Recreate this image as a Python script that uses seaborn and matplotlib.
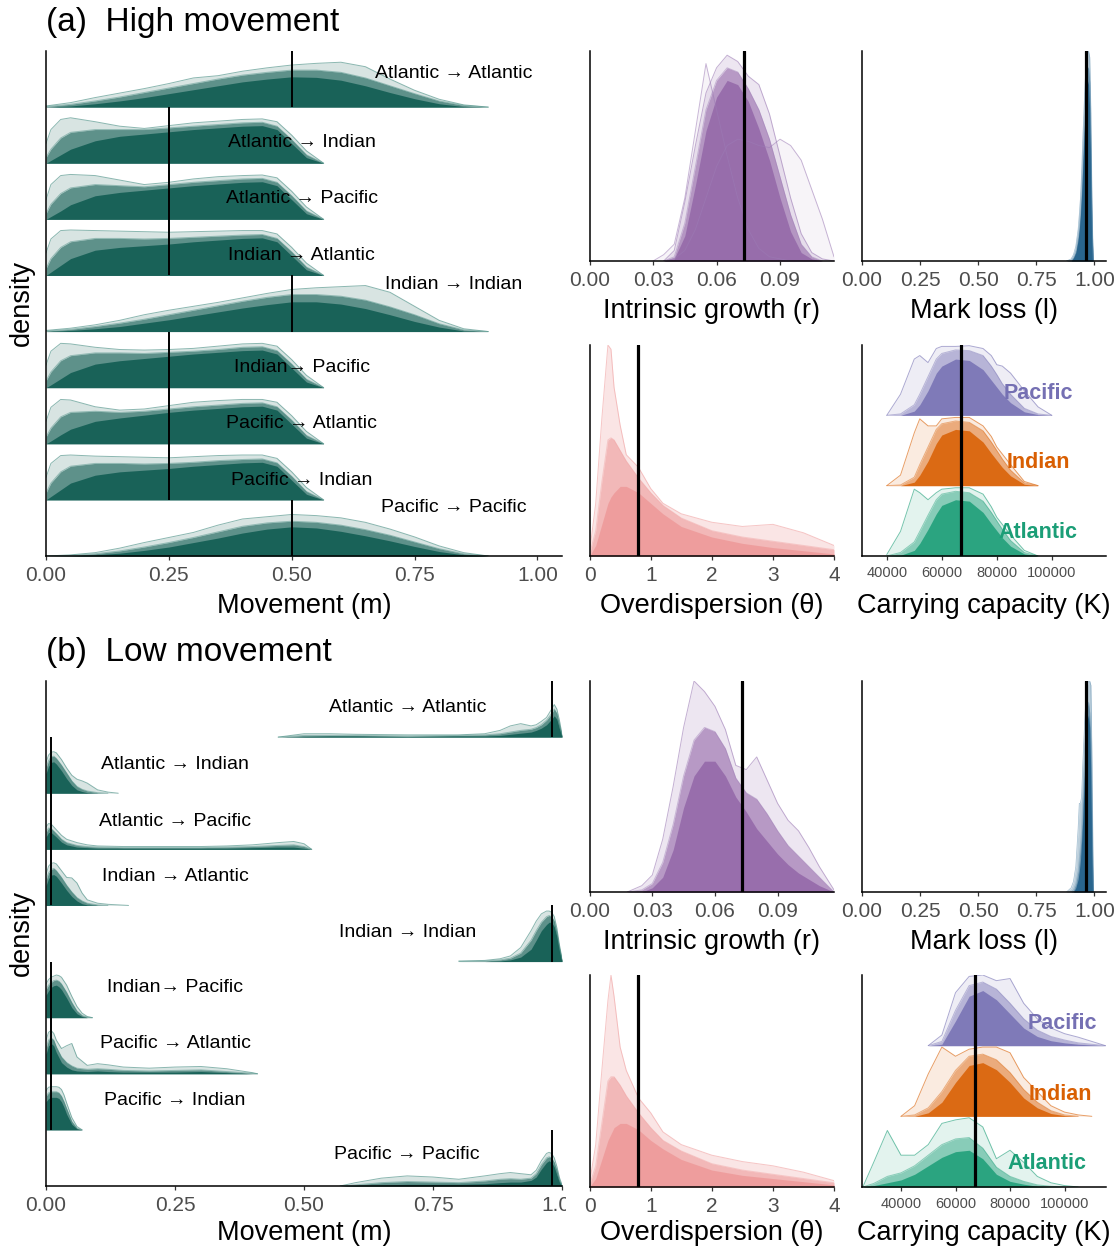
import numpy as np
import matplotlib
matplotlib.use("Agg")
import matplotlib.pyplot as plt
import seaborn as sns
from matplotlib.transforms import Bbox, TransformedBbox

# ------------------------------------------------------------------ data
routes = ["Atlantic \u2192 Atlantic", "Atlantic \u2192 Indian", "Atlantic \u2192 Pacific",
          "Indian \u2192 Atlantic", "Indian \u2192 Indian", "Indian\u2192 Pacific",
          "Pacific \u2192 Atlantic", "Pacific \u2192 Indian", "Pacific \u2192 Pacific"]
regions = ["Atlantic", "Indian", "Pacific"]

true_move_a = [0.50, 0.25, 0.25, 0.25, 0.50, 0.25, 0.25, 0.25, 0.50]
true_move_b = [0.98, 0.01, 0.01, 0.01, 0.98, 0.01, 0.01, 0.01, 0.98]
true_r = 0.073
true_theta = 0.8
true_l = 0.962
true_K = 67000

# (a) high movement: each route -> [envelope, middle, core] heights (ridge units)
grid_a_diag = [0, 0.05, 0.1, 0.15, 0.2, 0.25, 0.3, 0.35, 0.4, 0.45, 0.5, 0.55, 0.6, 0.65, 0.7, 0.75, 0.8, 0.85, 0.9]
grid_a_off = [0, 0.01, 0.03, 0.05, 0.1, 0.15, 0.2, 0.25, 0.3, 0.35, 0.4, 0.44, 0.47, 0.5, 0.53, 0.565]
a_atl_atl = [[0.02, 0.08, 0.17, 0.25, 0.33, 0.42, 0.52, 0.56, 0.64, 0.70, 0.75, 0.78, 0.80, 0.72, 0.50, 0.30, 0.14, 0.04, 0.0],
             [0.01, 0.05, 0.11, 0.18, 0.26, 0.34, 0.42, 0.50, 0.57, 0.62, 0.66, 0.66, 0.62, 0.52, 0.38, 0.24, 0.11, 0.03, 0.0],
             [0.0, 0.02, 0.06, 0.11, 0.17, 0.24, 0.31, 0.38, 0.45, 0.50, 0.54, 0.53, 0.48, 0.38, 0.26, 0.15, 0.06, 0.01, 0.0]]
a_atl_ind = [[0.35, 0.60, 0.78, 0.81, 0.74, 0.66, 0.62, 0.67, 0.72, 0.75, 0.78, 0.79, 0.74, 0.50, 0.22, 0.0],
             [0.10, 0.25, 0.45, 0.55, 0.60, 0.60, 0.60, 0.63, 0.66, 0.69, 0.72, 0.73, 0.66, 0.42, 0.15, 0.0],
             [0.0, 0.05, 0.15, 0.25, 0.40, 0.48, 0.52, 0.56, 0.60, 0.63, 0.66, 0.67, 0.60, 0.35, 0.10, 0.0]]
a_atl_pac = [[0.35, 0.62, 0.78, 0.80, 0.78, 0.70, 0.62, 0.66, 0.72, 0.76, 0.78, 0.79, 0.74, 0.50, 0.22, 0.0],
             [0.10, 0.27, 0.46, 0.56, 0.62, 0.60, 0.58, 0.62, 0.66, 0.69, 0.72, 0.73, 0.66, 0.42, 0.15, 0.0],
             [0.0, 0.05, 0.15, 0.26, 0.42, 0.48, 0.52, 0.56, 0.60, 0.63, 0.66, 0.67, 0.60, 0.35, 0.10, 0.0]]
a_ind_atl = [[0.40, 0.65, 0.80, 0.81, 0.80, 0.79, 0.78, 0.77, 0.78, 0.79, 0.80, 0.80, 0.74, 0.50, 0.22, 0.0],
             [0.12, 0.30, 0.50, 0.60, 0.66, 0.66, 0.65, 0.66, 0.68, 0.70, 0.72, 0.73, 0.66, 0.42, 0.15, 0.0],
             [0.0, 0.06, 0.18, 0.30, 0.45, 0.50, 0.53, 0.56, 0.60, 0.63, 0.66, 0.67, 0.60, 0.35, 0.10, 0.0]]
a_ind_ind = [[0.02, 0.06, 0.12, 0.20, 0.30, 0.38, 0.45, 0.52, 0.60, 0.68, 0.75, 0.78, 0.80, 0.82, 0.70, 0.45, 0.20, 0.05, 0.0],
             [0.01, 0.04, 0.09, 0.15, 0.22, 0.30, 0.38, 0.46, 0.54, 0.61, 0.66, 0.66, 0.63, 0.56, 0.44, 0.30, 0.14, 0.03, 0.0],
             [0.0, 0.02, 0.05, 0.09, 0.15, 0.21, 0.28, 0.35, 0.42, 0.48, 0.53, 0.53, 0.49, 0.41, 0.30, 0.18, 0.08, 0.01, 0.0]]
a_ind_pac = [[0.40, 0.65, 0.79, 0.78, 0.72, 0.68, 0.67, 0.68, 0.70, 0.74, 0.78, 0.79, 0.74, 0.50, 0.22, 0.0],
             [0.12, 0.28, 0.48, 0.57, 0.62, 0.62, 0.61, 0.63, 0.65, 0.68, 0.72, 0.73, 0.66, 0.42, 0.15, 0.0],
             [0.0, 0.05, 0.16, 0.27, 0.42, 0.48, 0.52, 0.56, 0.60, 0.63, 0.66, 0.67, 0.60, 0.35, 0.10, 0.0]]
a_pac_atl = [[0.40, 0.65, 0.79, 0.78, 0.66, 0.60, 0.62, 0.68, 0.74, 0.77, 0.79, 0.79, 0.74, 0.50, 0.22, 0.0],
             [0.12, 0.28, 0.48, 0.56, 0.58, 0.56, 0.58, 0.62, 0.66, 0.69, 0.72, 0.73, 0.66, 0.42, 0.15, 0.0],
             [0.0, 0.05, 0.16, 0.26, 0.40, 0.46, 0.51, 0.56, 0.60, 0.63, 0.66, 0.67, 0.60, 0.35, 0.10, 0.0]]
a_pac_ind = [[0.40, 0.65, 0.79, 0.80, 0.78, 0.77, 0.76, 0.75, 0.77, 0.79, 0.80, 0.80, 0.74, 0.50, 0.22, 0.0],
             [0.12, 0.30, 0.50, 0.60, 0.65, 0.65, 0.64, 0.65, 0.67, 0.70, 0.72, 0.73, 0.66, 0.42, 0.15, 0.0],
             [0.0, 0.06, 0.18, 0.30, 0.44, 0.50, 0.53, 0.56, 0.60, 0.63, 0.66, 0.67, 0.60, 0.35, 0.10, 0.0]]
a_pac_pac = [[0.0, 0.02, 0.06, 0.14, 0.24, 0.33, 0.42, 0.55, 0.66, 0.70, 0.74, 0.72, 0.68, 0.60, 0.48, 0.34, 0.18, 0.06, 0.0],
             [0.0, 0.01, 0.04, 0.09, 0.16, 0.24, 0.33, 0.43, 0.53, 0.59, 0.62, 0.60, 0.55, 0.47, 0.37, 0.25, 0.13, 0.04, 0.0],
             [0.0, 0.0, 0.02, 0.05, 0.10, 0.16, 0.24, 0.32, 0.41, 0.48, 0.52, 0.50, 0.44, 0.36, 0.27, 0.17, 0.08, 0.02, 0.0]]

# (b) low movement
grid_b_atl_atl = [0.45, 0.5, 0.55, 0.6, 0.7, 0.8, 0.85, 0.88, 0.9, 0.92, 0.94, 0.95, 0.96, 0.97, 0.98, 0.985, 0.99, 0.995, 1.0]
b_atl_atl = [[0.0, 0.06, 0.06, 0.05, 0.04, 0.04, 0.06, 0.12, 0.20, 0.24, 0.20, 0.22, 0.28, 0.35, 0.50, 0.58, 0.50, 0.30, 0.05],
             [0.0, 0.03, 0.03, 0.03, 0.02, 0.03, 0.04, 0.06, 0.09, 0.12, 0.14, 0.17, 0.22, 0.30, 0.42, 0.50, 0.42, 0.22, 0.03],
             [0.0, 0.01, 0.02, 0.02, 0.01, 0.02, 0.02, 0.03, 0.05, 0.07, 0.09, 0.12, 0.16, 0.22, 0.32, 0.38, 0.32, 0.15, 0.02]]
grid_b_atl_ind = [0, 0.005, 0.01, 0.015, 0.02, 0.03, 0.04, 0.05, 0.06, 0.07, 0.08, 0.1, 0.12, 0.14]
b_atl_ind = [[0.55, 0.68, 0.73, 0.74, 0.72, 0.60, 0.45, 0.32, 0.25, 0.22, 0.18, 0.06, 0.02, 0.0],
             [0.45, 0.58, 0.65, 0.66, 0.62, 0.50, 0.36, 0.22, 0.12, 0.07, 0.04, 0.01, 0.0, 0.0],
             [0.35, 0.48, 0.55, 0.56, 0.52, 0.40, 0.26, 0.14, 0.06, 0.03, 0.01, 0.0, 0.0, 0.0]]
grid_b_atl_pac = [0, 0.005, 0.01, 0.02, 0.03, 0.04, 0.06, 0.08, 0.1, 0.15, 0.2, 0.25, 0.3, 0.35, 0.4, 0.45, 0.48, 0.5, 0.515]
b_atl_pac = [[0.40, 0.46, 0.45, 0.35, 0.25, 0.18, 0.12, 0.08, 0.06, 0.05, 0.05, 0.05, 0.05, 0.06, 0.08, 0.12, 0.14, 0.10, 0.0],
             [0.30, 0.38, 0.37, 0.28, 0.18, 0.12, 0.07, 0.05, 0.04, 0.03, 0.03, 0.03, 0.03, 0.04, 0.05, 0.07, 0.08, 0.05, 0.0],
             [0.22, 0.30, 0.30, 0.22, 0.13, 0.08, 0.04, 0.03, 0.02, 0.02, 0.02, 0.02, 0.02, 0.02, 0.03, 0.04, 0.04, 0.02, 0.0]]
grid_b_ind_atl = [0, 0.005, 0.01, 0.015, 0.02, 0.03, 0.04, 0.05, 0.06, 0.07, 0.08, 0.1, 0.12, 0.16]
b_ind_atl = [[0.55, 0.70, 0.75, 0.76, 0.74, 0.62, 0.50, 0.49, 0.40, 0.22, 0.10, 0.04, 0.02, 0.0],
             [0.45, 0.58, 0.64, 0.66, 0.62, 0.50, 0.36, 0.24, 0.14, 0.08, 0.04, 0.01, 0.0, 0.0],
             [0.35, 0.48, 0.54, 0.55, 0.52, 0.40, 0.27, 0.16, 0.08, 0.03, 0.01, 0.0, 0.0, 0.0]]
grid_b_ind_ind = [0.8, 0.85, 0.88, 0.9, 0.92, 0.94, 0.95, 0.96, 0.97, 0.975, 0.98, 0.985, 0.99, 0.995, 1.0]
b_ind_ind = [[0.01, 0.02, 0.05, 0.10, 0.25, 0.55, 0.72, 0.85, 0.90, 0.90, 0.88, 0.80, 0.60, 0.30, 0.05],
             [0.0, 0.01, 0.03, 0.06, 0.15, 0.38, 0.55, 0.70, 0.80, 0.82, 0.80, 0.72, 0.52, 0.25, 0.03],
             [0.0, 0.0, 0.01, 0.03, 0.08, 0.22, 0.38, 0.55, 0.66, 0.70, 0.70, 0.62, 0.45, 0.20, 0.02]]
grid_b_ind_pac = [0, 0.005, 0.01, 0.015, 0.02, 0.025, 0.03, 0.04, 0.05, 0.06, 0.07, 0.08, 0.09]
b_ind_pac = [[0.60, 0.68, 0.72, 0.74, 0.76, 0.75, 0.72, 0.58, 0.38, 0.20, 0.08, 0.02, 0.0],
             [0.50, 0.58, 0.63, 0.66, 0.67, 0.65, 0.60, 0.45, 0.27, 0.12, 0.04, 0.01, 0.0],
             [0.40, 0.48, 0.54, 0.57, 0.58, 0.55, 0.50, 0.35, 0.18, 0.07, 0.02, 0.0, 0.0]]
grid_b_pac_atl = [0, 0.005, 0.01, 0.015, 0.02, 0.03, 0.04, 0.05, 0.06, 0.08, 0.1, 0.12, 0.15, 0.2, 0.25, 0.3, 0.35, 0.4, 0.41]
b_pac_atl = [[0.60, 0.74, 0.77, 0.72, 0.60, 0.45, 0.50, 0.54, 0.30, 0.15, 0.18, 0.16, 0.12, 0.10, 0.12, 0.13, 0.09, 0.02, 0.0],
             [0.45, 0.60, 0.64, 0.60, 0.48, 0.30, 0.20, 0.14, 0.10, 0.08, 0.09, 0.08, 0.06, 0.05, 0.06, 0.07, 0.04, 0.01, 0.0],
             [0.35, 0.50, 0.54, 0.50, 0.38, 0.20, 0.12, 0.07, 0.05, 0.04, 0.05, 0.04, 0.03, 0.03, 0.03, 0.04, 0.02, 0.0, 0.0]]
grid_b_pac_ind = [0, 0.005, 0.01, 0.02, 0.025, 0.03, 0.035, 0.04, 0.05, 0.06, 0.07]
b_pac_ind = [[0.70, 0.76, 0.77, 0.77, 0.76, 0.72, 0.62, 0.48, 0.22, 0.06, 0.0],
             [0.60, 0.66, 0.68, 0.68, 0.66, 0.60, 0.50, 0.38, 0.15, 0.03, 0.0],
             [0.50, 0.56, 0.58, 0.58, 0.56, 0.50, 0.40, 0.28, 0.10, 0.02, 0.0]]
grid_b_pac_pac = [0.57, 0.6, 0.65, 0.7, 0.75, 0.8, 0.85, 0.88, 0.9, 0.92, 0.94, 0.95, 0.96, 0.97, 0.975, 0.98, 0.985, 0.99, 0.995, 1.0]
b_pac_pac = [[0.0, 0.06, 0.14, 0.18, 0.16, 0.12, 0.18, 0.22, 0.24, 0.22, 0.20, 0.28, 0.45, 0.58, 0.60, 0.58, 0.50, 0.35, 0.15, 0.02],
             [0.0, 0.02, 0.06, 0.08, 0.07, 0.06, 0.09, 0.12, 0.13, 0.12, 0.14, 0.22, 0.38, 0.50, 0.52, 0.50, 0.42, 0.28, 0.10, 0.01],
             [0.0, 0.01, 0.02, 0.03, 0.03, 0.03, 0.04, 0.06, 0.07, 0.07, 0.10, 0.16, 0.30, 0.42, 0.45, 0.42, 0.34, 0.20, 0.07, 0.0]]

# intrinsic growth r (fraction of panel height)
grid_r_a = [0.03, 0.035, 0.04, 0.045, 0.05, 0.055, 0.06, 0.065, 0.07, 0.075, 0.08, 0.085, 0.09, 0.095, 0.1, 0.105, 0.11, 0.1155]
r_a_outlier1 = [0.0, 0.03, 0.08, 0.3, 0.62, 0.94, 0.72, 0.50, 0.30, 0.15, 0.06, 0.02, 0.01, 0.0, 0.0, 0.0, 0.0, 0.0]
r_a_outlier2 = [0.0, 0.0, 0.01, 0.05, 0.15, 0.30, 0.45, 0.55, 0.58, 0.57, 0.55, 0.54, 0.58, 0.55, 0.48, 0.34, 0.20, 0.02]
r_a = [[0.0, 0.0, 0.05, 0.28, 0.55, 0.80, 0.92, 0.98, 0.95, 0.88, 0.84, 0.70, 0.50, 0.30, 0.13, 0.04, 0.01, 0.0],
       [0.0, 0.0, 0.02, 0.18, 0.45, 0.72, 0.86, 0.92, 0.90, 0.82, 0.72, 0.58, 0.40, 0.22, 0.08, 0.02, 0.0, 0.0],
       [0.0, 0.0, 0.01, 0.12, 0.36, 0.62, 0.78, 0.86, 0.84, 0.76, 0.63, 0.48, 0.30, 0.14, 0.04, 0.01, 0.0, 0.0]]
grid_r_b = [0.018, 0.025, 0.03, 0.035, 0.04, 0.045, 0.05, 0.055, 0.06, 0.065, 0.07, 0.075, 0.08, 0.085, 0.09, 0.095, 0.1, 0.105, 0.11, 0.117]
r_b = [[0.0, 0.03, 0.08, 0.25, 0.50, 0.78, 1.00, 0.95, 0.88, 0.77, 0.60, 0.58, 0.64, 0.53, 0.42, 0.34, 0.29, 0.21, 0.12, 0.01],
       [0.0, 0.01, 0.04, 0.14, 0.32, 0.55, 0.72, 0.78, 0.76, 0.68, 0.54, 0.47, 0.44, 0.37, 0.29, 0.22, 0.17, 0.12, 0.07, 0.0],
       [0.0, 0.0, 0.02, 0.07, 0.20, 0.40, 0.55, 0.62, 0.62, 0.55, 0.45, 0.38, 0.30, 0.24, 0.18, 0.13, 0.09, 0.06, 0.03, 0.0]]

# overdispersion theta
grid_theta = [0, 0.1, 0.2, 0.3, 0.35, 0.4, 0.5, 0.6, 0.8, 1.0, 1.2, 1.5, 2.0, 2.5, 3.0, 3.5, 4.0]
theta_a = [[0.02, 0.25, 0.65, 1.00, 0.98, 0.80, 0.62, 0.48, 0.42, 0.32, 0.25, 0.20, 0.16, 0.14, 0.15, 0.11, 0.05],
           [0.01, 0.12, 0.35, 0.55, 0.56, 0.55, 0.50, 0.45, 0.37, 0.30, 0.24, 0.18, 0.12, 0.09, 0.07, 0.05, 0.03],
           [0.0, 0.05, 0.15, 0.25, 0.28, 0.30, 0.33, 0.33, 0.30, 0.25, 0.20, 0.14, 0.09, 0.06, 0.04, 0.025, 0.01]]
theta_b = [[0.02, 0.20, 0.55, 0.88, 1.00, 0.90, 0.66, 0.55, 0.42, 0.35, 0.26, 0.20, 0.15, 0.12, 0.10, 0.07, 0.03],
           [0.01, 0.10, 0.30, 0.50, 0.52, 0.52, 0.48, 0.43, 0.35, 0.28, 0.22, 0.17, 0.11, 0.08, 0.06, 0.04, 0.02],
           [0.0, 0.04, 0.13, 0.22, 0.25, 0.28, 0.30, 0.30, 0.27, 0.22, 0.18, 0.13, 0.08, 0.055, 0.04, 0.025, 0.01]]

# mark loss l
grid_l = [0.88, 0.9, 0.91, 0.92, 0.93, 0.935, 0.94, 0.945, 0.95, 0.96, 0.965, 0.97, 0.975, 0.98, 0.985, 0.99, 0.995]
l_a = [[0.0, 0.01, 0.03, 0.07, 0.15, 0.22, 0.30, 0.42, 0.58, 0.85, 0.95, 1.00, 1.00, 0.97, 0.70, 0.25, 0.0],
       [0.0, 0.005, 0.02, 0.05, 0.12, 0.17, 0.25, 0.35, 0.50, 0.78, 0.88, 0.92, 0.92, 0.85, 0.55, 0.18, 0.0],
       [0.0, 0.0, 0.015, 0.04, 0.10, 0.15, 0.22, 0.32, 0.45, 0.72, 0.82, 0.86, 0.84, 0.72, 0.45, 0.12, 0.0]]
l_b = [[0.0, 0.02, 0.05, 0.12, 0.30, 0.42, 0.42, 0.45, 0.60, 0.85, 0.93, 0.98, 1.00, 1.00, 0.98, 0.60, 0.05],
       [0.0, 0.0, 0.01, 0.04, 0.10, 0.16, 0.22, 0.30, 0.45, 0.72, 0.82, 0.88, 0.90, 0.85, 0.70, 0.35, 0.0],
       [0.0, 0.0, 0.0, 0.02, 0.06, 0.10, 0.15, 0.24, 0.35, 0.62, 0.75, 0.82, 0.84, 0.78, 0.55, 0.20, 0.0]]

# carrying capacity K (ridge units), order Atlantic, Indian, Pacific
grid_K_a = [40000, 45000, 50000, 52000, 55000, 58000, 60000, 65000, 70000, 75000, 78000, 80000, 82000, 85000, 90000, 95000, 100000]
K_a_atl = [[0.02, 0.35, 0.95, 0.90, 0.80, 0.90, 0.95, 0.97, 0.97, 0.88, 0.70, 0.55, 0.45, 0.30, 0.08, 0.0, 0.0],
           [0.0, 0.05, 0.20, 0.35, 0.58, 0.80, 0.88, 0.92, 0.90, 0.78, 0.62, 0.50, 0.38, 0.22, 0.05, 0.0, 0.0],
           [0.0, 0.01, 0.08, 0.18, 0.38, 0.60, 0.72, 0.80, 0.78, 0.62, 0.46, 0.36, 0.26, 0.14, 0.03, 0.0, 0.0]]
K_a_ind = [[0.0, 0.15, 0.75, 0.95, 0.85, 0.85, 0.95, 0.97, 0.97, 0.85, 0.70, 0.55, 0.45, 0.30, 0.06, 0.0, 0.0],
           [0.0, 0.01, 0.12, 0.30, 0.55, 0.80, 0.88, 0.92, 0.90, 0.78, 0.62, 0.50, 0.38, 0.22, 0.04, 0.0, 0.0],
           [0.0, 0.0, 0.05, 0.15, 0.35, 0.60, 0.72, 0.80, 0.78, 0.62, 0.46, 0.36, 0.26, 0.14, 0.02, 0.0, 0.0]]
K_a_pac = [[0.0, 0.30, 0.80, 0.85, 0.75, 0.95, 0.98, 0.98, 0.99, 0.95, 0.85, 0.72, 0.70, 0.60, 0.35, 0.12, 0.0],
           [0.0, 0.02, 0.15, 0.30, 0.55, 0.80, 0.88, 0.93, 0.92, 0.85, 0.70, 0.58, 0.45, 0.30, 0.10, 0.02, 0.0],
           [0.0, 0.0, 0.06, 0.15, 0.35, 0.60, 0.70, 0.80, 0.78, 0.65, 0.50, 0.40, 0.30, 0.18, 0.05, 0.01, 0.0]]
grid_K_b = [26000, 30000, 35000, 40000, 45000, 50000, 55000, 60000, 65000, 70000, 75000, 80000, 85000, 90000, 95000, 100000, 105000, 110000, 115000]
K_b_atl = [[0.0, 0.35, 0.80, 0.45, 0.45, 0.60, 0.90, 0.95, 0.98, 0.85, 0.40, 0.52, 0.35, 0.15, 0.06, 0.02, 0.0, 0.0, 0.0],
           [0.0, 0.05, 0.15, 0.20, 0.30, 0.45, 0.60, 0.68, 0.70, 0.55, 0.28, 0.15, 0.08, 0.03, 0.01, 0.0, 0.0, 0.0, 0.0],
           [0.0, 0.02, 0.06, 0.10, 0.18, 0.30, 0.42, 0.50, 0.52, 0.40, 0.18, 0.08, 0.04, 0.01, 0.0, 0.0, 0.0, 0.0, 0.0]]
K_b_ind = [[0.0, 0.0, 0.0, 0.0, 0.15, 0.60, 0.98, 0.85, 0.95, 0.98, 0.98, 0.90, 0.55, 0.35, 0.15, 0.06, 0.02, 0.0, 0.0],
           [0.0, 0.0, 0.0, 0.0, 0.02, 0.12, 0.35, 0.65, 0.85, 0.88, 0.80, 0.62, 0.38, 0.20, 0.08, 0.02, 0.0, 0.0, 0.0],
           [0.0, 0.0, 0.0, 0.0, 0.0, 0.05, 0.20, 0.48, 0.72, 0.76, 0.66, 0.48, 0.26, 0.12, 0.04, 0.01, 0.0, 0.0, 0.0]]
K_b_pac = [[0.0, 0.0, 0.0, 0.0, 0.0, 0.0, 0.15, 0.75, 0.98, 1.00, 0.92, 0.95, 0.60, 0.38, 0.25, 0.17, 0.12, 0.06, 0.0],
           [0.0, 0.0, 0.0, 0.0, 0.0, 0.0, 0.06, 0.50, 0.85, 0.90, 0.80, 0.60, 0.38, 0.22, 0.13, 0.08, 0.04, 0.02, 0.0],
           [0.0, 0.0, 0.0, 0.0, 0.0, 0.0, 0.02, 0.35, 0.70, 0.78, 0.65, 0.45, 0.25, 0.13, 0.07, 0.04, 0.02, 0.01, 0.0]]

# label placement (data coords)
lab_a_x = [0.83, 0.52, 0.52, 0.52, 0.83, 0.52, 0.52, 0.52, 0.83]
lab_a_dy = [0.60, 0.37, 0.37, 0.36, 0.84, 0.36, 0.36, 0.34, 0.87]
lab_b_x = [0.70, 0.25, 0.25, 0.25, 0.70, 0.25, 0.25, 0.25, 0.70]
lab_b_dy = [0.52, 0.52, 0.50, 0.52, 0.52, 0.54, 0.54, 0.53, 0.57]
K_lab_a = [(95000, 0.33), (95000, 1.33), (95000, 2.31)]
K_lab_b = [(93400, 0.33), (98400, 1.31), (99100, 2.31)]

# ------------------------------------------------------------------ style
sns.set_theme(style="ticks")
plt.rcParams['font.family'] = ['Liberation Sans', 'DejaVu Sans']
plt.rcParams['text.color'] = 'black'
plt.rcParams['axes.labelcolor'] = 'black'
plt.rcParams['axes.linewidth'] = 1.1

W, H = 1120, 1247
fig = plt.figure(figsize=(W / 100, H / 100), dpi=100)
fig.patch.set_facecolor("white")

TEAL = "#0D5A50"
TEAL_LINE = "#3E877C"
PURPLE = "#9367A8"
SALMON = "#EC8C8C"
BLUE = "#22608A"
DARK2 = {"Atlantic": "#1B9E77", "Indian": "#D95F02", "Pacific": "#7570B3"}

TICK_FS = 15
TITLE_FS = 19.5


def px_axes(x0, y0, x1, y1):
    return fig.add_axes([x0 / W, 1 - y1 / H, (x1 - x0) / W, (y1 - y0) / H])


def style_axes(ax, xlim, ylim, ticks, labels, xlabel, tick_fs=TICK_FS, labelpad=6, tickpad=4.2):
    ax.set_xlim(*xlim)
    ax.set_ylim(*ylim)
    sns.despine(ax=ax)
    for s in ("left", "bottom"):
        ax.spines[s].set_color("black")
        ax.spines[s].set_linewidth(1.1)
    ax.set_yticks([])
    ax.set_xticks(ticks)
    ax.set_xticklabels(labels)
    ax.tick_params(axis="x", length=3, width=0.9, color="#333333", pad=tickpad,
                   labelsize=tick_fs, labelcolor="#4D4D4D")
    ax.set_xlabel(xlabel, fontsize=TITLE_FS, color="black", labelpad=labelpad)
    ax.set_ylabel("")
    ax.set_facecolor("white")
    ax.grid(False)


def trim(xs, ys):
    nz = np.nonzero(ys > 0)[0]
    lo = max(nz[0] - 1, 0)
    hi = min(nz[-1] + 1, len(xs) - 1)
    return xs[lo:hi + 1], ys[lo:hi + 1]


def draw_dist(ax, xs, curves, base, color, line_color, alphas=(0.16, 0.6, 0.85), lw=0.7, extra=()):
    xs = np.asarray(xs, float)
    layers = [np.asarray(c, float) for c in curves]
    for c in extra:
        x1, y1 = trim(xs, np.asarray(c, float))
        ax.fill_between(x1, base, base + y1, color=color, alpha=0.07, lw=0)
        sns.lineplot(x=x1, y=base + y1, ax=ax, color=line_color, alpha=0.55, lw=lw, sort=False, estimator=None)
    for c, a in zip(layers, alphas):
        x1, y1 = trim(xs, c)
        ax.fill_between(x1, base, base + y1, color=color, alpha=a, lw=0)
    for c, a in zip(layers[:2], (0.6, 0.45)):
        x1, y1 = trim(xs, c)
        sns.lineplot(x=x1, y=base + y1, ax=ax, color=line_color, alpha=a, lw=lw, sort=False, estimator=None)


def movement_panel(ax, grids, data, truths, lab_x, lab_dy):
    n = len(routes)
    for i in range(n):
        base = n - 1 - i
        draw_dist(ax, grids[i], data[i], base, TEAL, TEAL_LINE)
        ax.vlines(truths[i], base, base + 1, color="black", lw=1.4, zorder=4)
    for i in range(n):
        base = n - 1 - i
        ax.text(lab_x[i], base + lab_dy[i], routes[i], ha="center", va="center", fontsize=14, color="black", zorder=5)


def K_panel(ax, grid, datasets, labpos):
    for j in [2, 1, 0]:
        reg = regions[j]
        draw_dist(ax, grid, datasets[j], j, DARK2[reg], DARK2[reg], alphas=(0.12, 0.45, 0.85))
    ax.axvline(true_K, color="black", lw=2.3, zorder=4)
    for j, reg in enumerate(regions):
        ax.text(labpos[j][0], labpos[j][1], reg, color=DARK2[reg], fontsize=15.5, fontweight="bold",
                ha="center", va="center", zorder=5)


move_ticks = [0, 0.25, 0.5, 0.75, 1.0]
move_labels = ["0.00", "0.25", "0.50", "0.75", "1.00"]
r_ticks = [0, 0.03, 0.06, 0.09]
r_labels = ["0.00", "0.03", "0.06", "0.09"]
th_ticks = [0, 1, 2, 3, 4]
th_labels = ["0", "1", "2", "3", "4"]
K_ticks = [40000, 60000, 80000, 100000]
K_labels = ["40000", "60000", "80000", "100000"]

# ------------------------------------------------------------------ panel (a)
ax = px_axes(46, 51, 562, 556)
grids_a = [grid_a_diag, grid_a_off, grid_a_off, grid_a_off, grid_a_diag, grid_a_off, grid_a_off, grid_a_off, grid_a_diag]
data_a = [a_atl_atl, a_atl_ind, a_atl_pac, a_ind_atl, a_ind_ind, a_ind_pac, a_pac_atl, a_pac_ind, a_pac_pac]
movement_panel(ax, grids_a, data_a, true_move_a, lab_a_x, lab_a_dy)
style_axes(ax, (0, 1.05), (0, 9), move_ticks, move_labels, "Movement (m)")

ax = px_axes(589.6, 51, 834, 261)
draw_dist(ax, grid_r_a, r_a, 0, PURPLE, "#9C7BB5", extra=(r_a_outlier1, r_a_outlier2))
ax.axvline(true_r, color="black", lw=2.3, zorder=4)
style_axes(ax, (0, 0.1155), (0, 1.0), r_ticks, r_labels, "Intrinsic growth (r)")

ax = px_axes(862, 51, 1106, 261)
draw_dist(ax, grid_l, l_a, 0, BLUE, "#5F8FB0", alphas=(0.3, 0.5, 0.9), lw=0.5)
ax.axvline(true_l, color="black", lw=2.3, zorder=4)
style_axes(ax, (0, 1.05), (0, 1.0), move_ticks, move_labels, "Mark loss (l)")

ax = px_axes(589.6, 345, 834, 556)
draw_dist(ax, grid_theta, theta_a, 0, SALMON, "#F0A0A0", alphas=(0.22, 0.5, 0.6))
ax.axvline(true_theta, color="black", lw=2.3, zorder=4)
style_axes(ax, (0, 4), (0, 1.0), th_ticks, th_labels, "Overdispersion (\u03b8)")

ax = px_axes(862, 345, 1106, 556)
K_panel(ax, grid_K_a, [K_a_atl, K_a_ind, K_a_pac], K_lab_a)
style_axes(ax, (31000, 119700), (0, 3), K_ticks, K_labels, "Carrying capacity (K)", tick_fs=10.5, labelpad=9)

# ------------------------------------------------------------------ panel (b)
axb = px_axes(46, 681, 562, 1186)
grids_b = [grid_b_atl_atl, grid_b_atl_ind, grid_b_atl_pac, grid_b_ind_atl, grid_b_ind_ind,
           grid_b_ind_pac, grid_b_pac_atl, grid_b_pac_ind, grid_b_pac_pac]
data_b = [b_atl_atl, b_atl_ind, b_atl_pac, b_ind_atl, b_ind_ind, b_ind_pac, b_pac_atl, b_pac_ind, b_pac_pac]
movement_panel(axb, grids_b, data_b, true_move_b, lab_b_x, lab_b_dy)
style_axes(axb, (0, 1.0), (0, 9), move_ticks, move_labels, "Movement (m)", labelpad=3.5)
clip = TransformedBbox(Bbox([[0, 0], [566 / W, 1]]), fig.transFigure)
for t in axb.xaxis.get_major_ticks():
    t.label1.set_clip_box(clip)
    t.label1.set_clip_on(True)

ax = px_axes(589.6, 681, 834, 892)
draw_dist(ax, grid_r_b, r_b, 0, PURPLE, "#9C7BB5")
ax.axvline(true_r, color="black", lw=2.3, zorder=4)
style_axes(ax, (0, 0.117), (0, 1.0), r_ticks, r_labels, "Intrinsic growth (r)")

ax = px_axes(862, 681, 1106, 892)
draw_dist(ax, grid_l, l_b, 0, BLUE, "#5F8FB0", alphas=(0.3, 0.5, 0.9), lw=0.5)
ax.axvline(true_l, color="black", lw=2.3, zorder=4)
style_axes(ax, (0, 1.05), (0, 1.0), move_ticks, move_labels, "Mark loss (l)")

ax = px_axes(589.6, 975, 834, 1187)
draw_dist(ax, grid_theta, theta_b, 0, SALMON, "#F0A0A0", alphas=(0.22, 0.5, 0.6))
ax.axvline(true_theta, color="black", lw=2.3, zorder=4)
style_axes(ax, (0, 4), (0, 1.0), th_ticks, th_labels, "Overdispersion (\u03b8)", labelpad=3.2)

ax = px_axes(862, 975, 1106, 1187)
K_panel(ax, grid_K_b, [K_b_atl, K_b_ind, K_b_pac], K_lab_b)
style_axes(ax, (25700, 115200), (0, 3), K_ticks, K_labels, "Carrying capacity (K)", tick_fs=10.5, labelpad=6.2)

# ------------------------------------------------------------------ titles
fig.text(46 / W, 1 - 22 / H, "(a)  High movement", fontsize=24, ha="left", va="center", color="black")
fig.text(46 / W, 1 - 652 / H, "(b)  Low movement", fontsize=24, ha="left", va="center", color="black")
fig.text(22 / W, 1 - 303 / H, "density", fontsize=TITLE_FS, rotation=90, ha="center", va="center", color="black")
fig.text(22 / W, 1 - 933 / H, "density", fontsize=TITLE_FS, rotation=90, ha="center", va="center", color="black")

fig.savefig("out.png", dpi=100, facecolor="white")
